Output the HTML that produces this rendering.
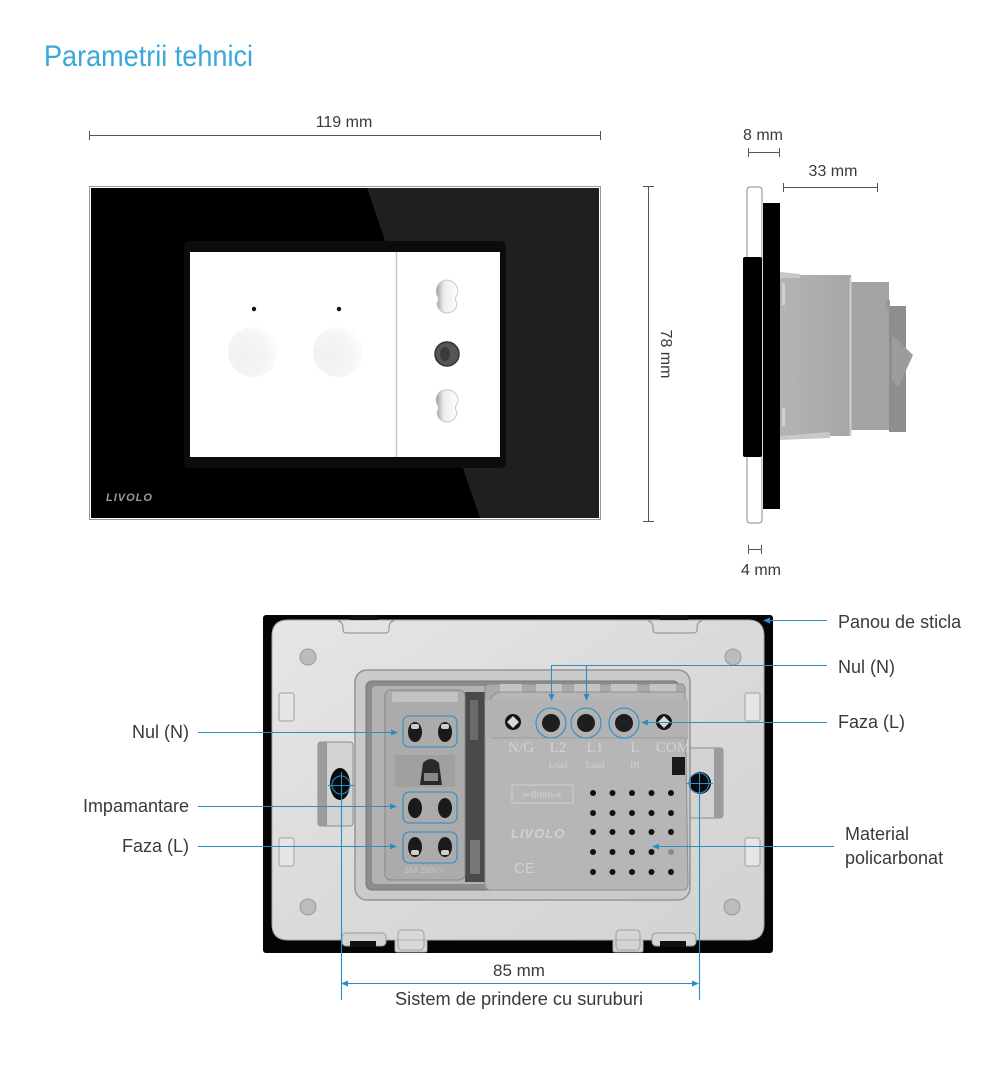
<!DOCTYPE html>
<html><head><meta charset="utf-8">
<style>
html,body{margin:0;padding:0;background:#fff;}
svg{display:block;}
</style></head><body>
<svg width="1000" height="1071" viewBox="0 0 1000 1071" xmlns="http://www.w3.org/2000/svg" font-family="Liberation Sans, sans-serif">
<defs>
  <linearGradient id="plateG" x1="0" y1="0" x2="1" y2="1">
    <stop offset="0" stop-color="#e6e6e6"/>
    <stop offset="0.5" stop-color="#dadada"/>
    <stop offset="1" stop-color="#d2d2d2"/>
  </linearGradient>
  <radialGradient id="touchG" cx="0.3" cy="0.6" r="0.8">
    <stop offset="0" stop-color="#f0f0f0"/>
    <stop offset="0.6" stop-color="#f5f5f5"/>
    <stop offset="1" stop-color="#ffffff"/>
  </radialGradient>
  <linearGradient id="holeG" x1="0" y1="0" x2="1" y2="0">
    <stop offset="0" stop-color="#a0a0a0"/>
    <stop offset="0.35" stop-color="#ececec"/>
    <stop offset="1" stop-color="#ffffff"/>
  </linearGradient>
  <linearGradient id="bodyG" x1="0" y1="0" x2="1" y2="0">
    <stop offset="0" stop-color="#b4b4b4"/>
    <stop offset="1" stop-color="#a6a6a6"/>
  </linearGradient>
</defs>

<!-- Title -->
<text x="44" y="66" font-size="30" fill="#3aa7da" textLength="209" lengthAdjust="spacingAndGlyphs">Parametrii tehnici</text>

<!-- 119 mm dimension -->
<g stroke="#555" stroke-width="1">
  <line x1="89" y1="135.5" x2="601" y2="135.5"/>
  <line x1="89.5" y1="131" x2="89.5" y2="140"/>
  <line x1="600.5" y1="131" x2="600.5" y2="140"/>
</g>
<text x="344" y="127" font-size="16" fill="#3a3a3a" text-anchor="middle">119 mm</text>

<!-- Front plate -->
<rect x="89.5" y="186.5" width="511" height="333" fill="#fff" stroke="#9a9a9a" stroke-width="1"/>
<rect x="91" y="188" width="508" height="330" fill="#000"/>
<polygon points="367,188 599,188 599,518 480,518" fill="#1f1f1f"/>
<rect x="184" y="241" width="322" height="227" rx="5" fill="#0c0c0c"/>
<rect x="190" y="252" width="310" height="205" fill="#ffffff"/>
<line x1="396.5" y1="252" x2="396.5" y2="457" stroke="#c8c8c8" stroke-width="1.5"/>
<!-- touch areas -->
<circle cx="253" cy="352" r="25" fill="url(#touchG)"/>
<circle cx="338" cy="352" r="25" fill="url(#touchG)"/>
<circle cx="254" cy="309" r="2.2" fill="#111"/>
<circle cx="339" cy="309" r="2.2" fill="#111"/>
<!-- socket holes -->
<g>
  <path d="M447,280 a11,11 0 0 1 10,15 q-3,4 0,8 a10,10 0 1 1 -20,0 q3,-4 0,-8 a11,11 0 0 1 10,-15 z" fill="url(#holeG)" stroke="#bdbdbd" stroke-width="0.8"/>
  <circle cx="447" cy="354" r="12" fill="#555" stroke="#333" stroke-width="1.5"/>
  <ellipse cx="445" cy="354" rx="5" ry="7" fill="#3a3a3a"/>
  <path d="M447,390 a10,10 0 0 1 10,14 q-3,4 0,8 a10,10 0 1 1 -20,0 q3,-4 0,-8 a10,10 0 0 1 10,-14 z" fill="url(#holeG)" stroke="#bdbdbd" stroke-width="0.8"/>
</g>
<text x="106" y="501" font-size="11" font-weight="bold" font-style="italic" fill="#9a9a9a" letter-spacing="1">LIVOLO</text>

<!-- 78 mm dimension -->
<g stroke="#555" stroke-width="1">
  <line x1="648.5" y1="186" x2="648.5" y2="522"/>
  <line x1="643" y1="186.5" x2="654" y2="186.5"/>
  <line x1="643" y1="521.5" x2="654" y2="521.5"/>
</g>
<text x="0" y="0" font-size="16" fill="#3a3a3a" text-anchor="middle" transform="translate(661,354) rotate(90)">78 mm</text>

<!-- Side view -->
<rect x="747" y="187" width="15" height="336" rx="3" fill="#fff" stroke="#888" stroke-width="1"/>
<rect x="743" y="257" width="19" height="200" rx="2" fill="#000"/>
<rect x="763" y="203" width="17" height="306" fill="#000"/>
<line x1="762.5" y1="203" x2="762.5" y2="509" stroke="#ddd" stroke-width="1"/>
<!-- body -->
<rect x="780" y="275" width="71" height="161" fill="url(#bodyG)"/>
<rect x="782" y="283" width="3" height="22" fill="#d0d0d0"/>
<rect x="782" y="408" width="3" height="18" fill="#d0d0d0"/>
<polygon points="780,272 800,274 800,278 780,278" fill="#c8c8c8"/>
<polygon points="780,436 830,432 830,438 780,440" fill="#c8c8c8"/>
<rect x="851" y="282" width="38" height="148" fill="#a3a3a3"/>
<line x1="850.5" y1="278" x2="850.5" y2="436" stroke="#cfcfcf" stroke-width="2"/>
<rect x="889" y="306" width="17" height="126" fill="#8e8e8e"/>
<polygon points="892,335 913,355 898,388 892,380" fill="#9c9c9c"/>
<rect x="886" y="300" width="4" height="10" fill="#999"/>

<!-- 8 mm -->
<g stroke="#555" stroke-width="1">
  <line x1="748" y1="152.5" x2="779" y2="152.5"/>
  <line x1="748.5" y1="148" x2="748.5" y2="157"/>
  <line x1="779.5" y1="148" x2="779.5" y2="157"/>
</g>
<text x="763" y="140" font-size="16" fill="#3a3a3a" text-anchor="middle">8 mm</text>
<!-- 33 mm -->
<g stroke="#555" stroke-width="1">
  <line x1="783" y1="187.5" x2="878" y2="187.5"/>
  <line x1="783.5" y1="183" x2="783.5" y2="192"/>
  <line x1="877.5" y1="183" x2="877.5" y2="192"/>
</g>
<text x="833" y="176" font-size="16" fill="#3a3a3a" text-anchor="middle">33 mm</text>
<!-- 4 mm -->
<g stroke="#555" stroke-width="1">
  <line x1="748" y1="549.5" x2="762" y2="549.5"/>
  <line x1="748.5" y1="545" x2="748.5" y2="554"/>
  <line x1="761.5" y1="545" x2="761.5" y2="554"/>
</g>
<text x="761" y="575" font-size="16" fill="#3a3a3a" text-anchor="middle">4 mm</text>

<!-- Back view -->
<rect x="263" y="615" width="510" height="338" rx="3" fill="#050505"/>
<path d="M288,620 L748,620 Q764,620 764,636 L764,924 Q764,940 748,940 L643,940 L643,950 Q643,952 641,952 L615,952 Q613,952 613,950 L613,940 L427,940 L427,950 Q427,952 425,952 L397,952 Q395,952 395,950 L395,940 L288,940 Q272,940 272,924 L272,636 Q272,620 288,620 Z" fill="url(#plateG)" stroke="#a8a8a8" stroke-width="1"/>
<line x1="395" y1="940" x2="427" y2="940" stroke="#b0b0b0"/>
<line x1="613" y1="940" x2="643" y2="940" stroke="#b0b0b0"/>
<rect x="398" y="930" width="26" height="20" rx="4" fill="none" stroke="#a0a0a0"/>
<rect x="616" y="930" width="24" height="20" rx="4" fill="none" stroke="#a0a0a0"/>
<!-- bottom small tabs with slits -->
<rect x="342" y="933" width="44" height="13" rx="4" fill="#d4d4d4" stroke="#999"/>
<rect x="350" y="941" width="26" height="6" fill="#111"/>
<rect x="652" y="933" width="44" height="13" rx="4" fill="#d4d4d4" stroke="#999"/>
<rect x="660" y="941" width="26" height="6" fill="#111"/>
<!-- top notches -->
<path d="M338,621 q4,0 5,6 l0,3 q0,3 4,3 l38,0 q4,0 4,-3 l0,-3 q1,-6 5,-6" fill="none" stroke="#9a9a9a" stroke-width="1.2"/>
<rect x="350" y="615" width="28" height="5" fill="#111"/>
<path d="M648,621 q4,0 5,6 l0,3 q0,3 4,3 l36,0 q4,0 4,-3 l0,-3 q1,-6 5,-6" fill="none" stroke="#9a9a9a" stroke-width="1.2"/>
<rect x="660" y="615" width="28" height="5" fill="#111"/>
<!-- side tabs -->
<rect x="279" y="693" width="15" height="28" rx="2" fill="#e6e6e6" stroke="#a0a0a0"/>
<rect x="279" y="838" width="15" height="28" rx="2" fill="#e6e6e6" stroke="#a0a0a0"/>
<rect x="745" y="693" width="15" height="28" rx="2" fill="#e6e6e6" stroke="#a0a0a0"/>
<rect x="745" y="838" width="15" height="28" rx="2" fill="#e6e6e6" stroke="#a0a0a0"/>
<!-- corner holes -->
<g fill="#bcbcbc" stroke="#9a9a9a" stroke-width="1">
  <circle cx="308" cy="657" r="8"/>
  <circle cx="733" cy="657" r="8"/>
  <circle cx="308" cy="907" r="8"/>
  <circle cx="732" cy="907" r="8"/>
</g>
<!-- screw slots -->
<rect x="318" y="742" width="35" height="84" rx="3" fill="#d2d2d2" stroke="#8c8c8c"/>
<rect x="318" y="742" width="9" height="84" fill="#9c9c9c"/>
<ellipse cx="340" cy="784" rx="10" ry="16" fill="#0a0a0a"/>
<rect x="688" y="748" width="35" height="70" rx="3" fill="#d2d2d2" stroke="#8c8c8c"/>
<rect x="714" y="748" width="9" height="70" fill="#9c9c9c"/>
<circle cx="700" cy="783" r="11" fill="#0a0a0a"/>
<!-- recess -->
<rect x="355" y="670" width="335" height="230" rx="12" fill="#cacaca" stroke="#949494" stroke-width="1.5"/>
<rect x="366" y="681" width="313" height="209" rx="6" fill="#8c8c8c" stroke="#777"/>
<rect x="372" y="686" width="302" height="198" rx="4" fill="#b2b2b2"/>
<rect x="465" y="692" width="22" height="190" fill="#4a4a4a"/>
<rect x="470" y="700" width="8" height="40" fill="#6a6a6a"/>
<rect x="470" y="840" width="10" height="34" fill="#777"/>
<!-- left module -->
<rect x="385" y="690" width="80" height="190" rx="6" fill="#ababab" stroke="#878787"/>
<rect x="392" y="692" width="66" height="10" rx="2" fill="#c2c2c2"/>
<rect x="395" y="755" width="60" height="32" fill="#a0a0a0"/>
<path d="M420,785 l3,-22 q8,-8 16,0 l3,22 z" fill="#2a2a2a"/>
<rect x="424" y="773" width="14" height="8" fill="#888"/>
<g fill="#1a1a1a">
  <ellipse cx="415" cy="732" rx="7" ry="10"/>
  <ellipse cx="445" cy="732" rx="7" ry="10"/>
  <ellipse cx="415" cy="808" rx="7" ry="10"/>
  <ellipse cx="445" cy="808" rx="7" ry="10"/>
  <ellipse cx="415" cy="847" rx="7" ry="10"/>
  <ellipse cx="445" cy="847" rx="7" ry="10"/>
</g>
<g fill="#cfcfcf">
  <rect x="411" y="724" width="8" height="5" rx="2"/>
  <rect x="441" y="724" width="8" height="5" rx="2"/>
  <rect x="411" y="850" width="8" height="5" rx="2"/>
  <rect x="441" y="850" width="8" height="5" rx="2"/>
</g>
<text x="424" y="873" font-size="8" fill="#c8c8c8" text-anchor="middle">16A 250V~</text>
<!-- right module -->
<rect x="485" y="684" width="200" height="46" rx="4" fill="#a9a9a9" stroke="#8a8a8a"/>
<g fill="#c4c4c4">
  <rect x="500" y="684" width="22" height="12"/>
  <rect x="536" y="684" width="26" height="12"/>
  <rect x="574" y="684" width="26" height="12"/>
  <rect x="611" y="684" width="26" height="12"/>
  <rect x="650" y="684" width="26" height="12"/>
</g>
<path d="M485,737 q0,-45 16,-45 L685,692 L688,884 q0,6 -6,6 L491,890 q-6,0 -6,-6 z" fill="#b6b6b6" stroke="#8e8e8e"/>
<rect x="485" y="700" width="203" height="38" fill="#b2b2b2"/>
<line x1="492" y1="738" x2="688" y2="738" stroke="#9c9c9c"/>
<g>
  <circle cx="551" cy="723" r="9" fill="#1e1e1e"/>
  <circle cx="586" cy="723" r="9" fill="#1e1e1e"/>
  <circle cx="624" cy="723" r="9" fill="#1e1e1e"/>
  <circle cx="513" cy="722" r="8" fill="#151515"/>
  <polygon points="513,716 519,722 513,728 507,722" fill="#d8d8d8"/>
  <circle cx="664" cy="722" r="8" fill="#151515"/>
  <polygon points="664,716 670,722 664,728 658,722" fill="#d8d8d8"/>
</g>
<g font-family="Liberation Serif, serif" fill="#d2d2d2" font-size="15" text-anchor="middle">
  <text x="521" y="752">N/G</text>
  <text x="558" y="752">L2</text>
  <text x="595" y="752">L1</text>
  <text x="635" y="752">L</text>
  <text x="673" y="752">COM</text>
</g>
<g font-family="Liberation Serif, serif" fill="#d2d2d2" font-size="9" text-anchor="middle">
  <text x="558" y="768">Load</text>
  <text x="595" y="768">Load</text>
  <text x="635" y="768">IN</text>
</g>
<rect x="672" y="757" width="13" height="18" fill="#1a1a1a"/>
<rect x="512" y="785" width="61" height="18" fill="none" stroke="#d0d0d0" stroke-width="1"/>
<text x="542" y="798" font-size="10" fill="#d0d0d0" text-anchor="middle">⇐8mm⇒</text>
<text x="511" y="838" font-size="13" font-weight="bold" font-style="italic" fill="#d0d0d0" letter-spacing="1">LIVOLO</text>
<text x="514" y="873" font-size="15" fill="#cfcfcf">CE</text>
<g fill="#111">
  <circle cx="593" cy="793" r="3"/><circle cx="612.5" cy="793" r="3"/><circle cx="632" cy="793" r="3"/><circle cx="651.5" cy="793" r="3"/><circle cx="671" cy="793" r="3"/>
  <circle cx="593" cy="813" r="3"/><circle cx="612.5" cy="813" r="3"/><circle cx="632" cy="813" r="3"/><circle cx="651.5" cy="813" r="3"/><circle cx="671" cy="813" r="3"/>
  <circle cx="593" cy="832" r="3"/><circle cx="612.5" cy="832" r="3"/><circle cx="632" cy="832" r="3"/><circle cx="651.5" cy="832" r="3"/><circle cx="671" cy="832" r="3"/>
  <circle cx="593" cy="852" r="3"/><circle cx="612.5" cy="852" r="3"/><circle cx="632" cy="852" r="3"/><circle cx="651.5" cy="852" r="3"/>
  <circle cx="593" cy="872" r="3"/><circle cx="612.5" cy="872" r="3"/><circle cx="632" cy="872" r="3"/><circle cx="651.5" cy="872" r="3"/><circle cx="671" cy="872" r="3"/>
</g>
<circle cx="671" cy="852" r="3" fill="#888"/>

<!-- Blue annotations -->
<g stroke="#2a8dc6" stroke-width="1.1" fill="none">
  <rect x="403" y="716" width="54" height="31" rx="6"/>
  <rect x="403" y="792" width="54" height="31" rx="6"/>
  <rect x="403" y="832" width="54" height="31" rx="6"/>
  <circle cx="551" cy="723" r="15"/>
  <circle cx="586" cy="723" r="15"/>
  <circle cx="624" cy="723" r="15"/>
  <line x1="198" y1="732.5" x2="393" y2="732.5"/>
  <line x1="198" y1="806.5" x2="391" y2="806.5"/>
  <line x1="198" y1="846.5" x2="391" y2="846.5"/>
  <line x1="767" y1="620.5" x2="827" y2="620.5"/>
  <line x1="551" y1="665.5" x2="827" y2="665.5"/>
  <line x1="551.5" y1="665" x2="551.5" y2="696"/>
  <line x1="586.5" y1="665" x2="586.5" y2="696"/>
  <line x1="646" y1="722.5" x2="827" y2="722.5"/>
  <line x1="657" y1="846.5" x2="834" y2="846.5"/>
  <circle cx="341" cy="785" r="9"/>
  <line x1="328" y1="785.5" x2="354" y2="785.5"/>
  <line x1="341.5" y1="772" x2="341.5" y2="1000"/>
  <circle cx="699" cy="783" r="10"/>
  <line x1="686" y1="783.5" x2="713" y2="783.5"/>
  <line x1="699.5" y1="771" x2="699.5" y2="1000"/>
  <line x1="346" y1="983.5" x2="694" y2="983.5"/>
</g>
<g fill="#2a8dc6">
  <polygon points="398,732.5 391,729.5 391,735.5"/>
  <polygon points="397,806.5 390,803.5 390,809.5"/>
  <polygon points="397,846.5 390,843.5 390,849.5"/>
  <polygon points="763,620.5 770,617.5 770,623.5"/>
  <polygon points="551.5,701 548.5,694 554.5,694"/>
  <polygon points="586.5,701 583.5,694 589.5,694"/>
  <polygon points="641,722.5 648,719.5 648,725.5"/>
  <polygon points="652,846.5 659,843.5 659,849.5"/>
  <polygon points="341,983.5 348,980.5 348,986.5"/>
  <polygon points="699,983.5 692,980.5 692,986.5"/>
</g>

<!-- Labels -->
<g font-size="18" fill="#3a3a3a">
  <text x="838" y="628">Panou de sticla</text>
  <text x="838" y="673">Nul (N)</text>
  <text x="838" y="728">Faza (L)</text>
  <text x="845" y="840">Material</text>
  <text x="845" y="864">policarbonat</text>
  <text x="189" y="738" text-anchor="end">Nul (N)</text>
  <text x="189" y="812" text-anchor="end">Impamantare</text>
  <text x="189" y="852" text-anchor="end">Faza (L)</text>
  <text x="519" y="976" text-anchor="middle" font-size="17">85 mm</text>
  <text x="519" y="1005" text-anchor="middle" textLength="248" lengthAdjust="spacingAndGlyphs">Sistem de prindere cu suruburi</text>
</g>
</svg>
</body></html>
